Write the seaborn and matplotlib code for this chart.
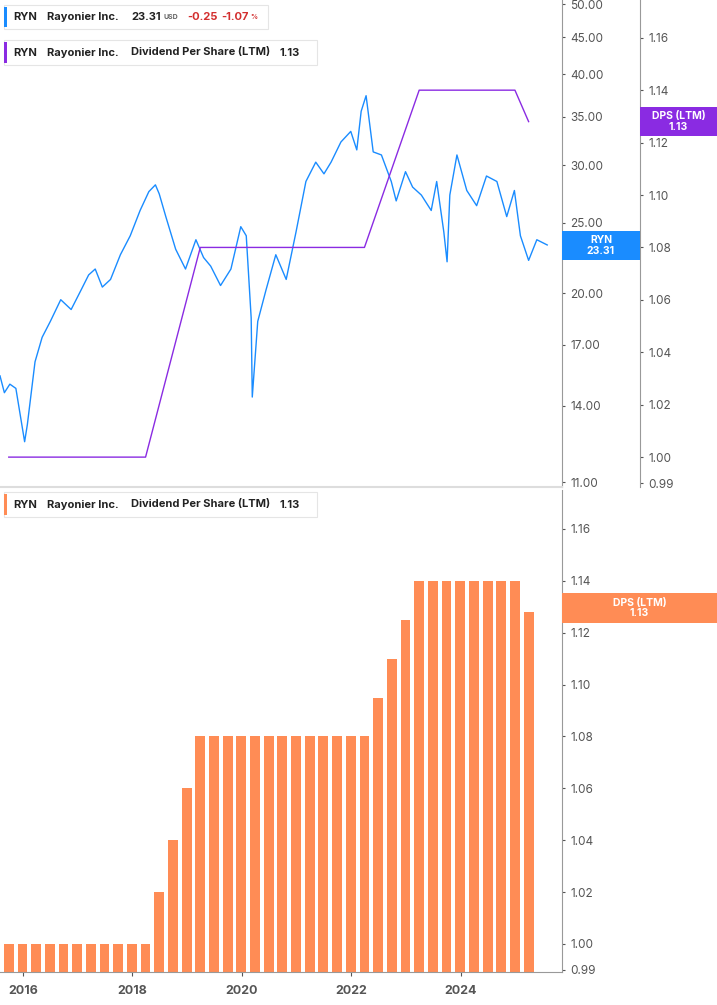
import numpy as np
import pandas as pd
import matplotlib
matplotlib.use("Agg")
import matplotlib.pyplot as plt
import seaborn as sns

plt.rcParams["font.family"] = "Inter"

# ── data ──────────────────────────────────────────────────────
# price: decimal year, USD
PRICE_T = [2015.58, 2015.66, 2015.76, 2015.87, 2016.03, 2016.08, 2016.22, 2016.35, 2016.50, 2016.69,
           2016.88, 2017.06, 2017.20, 2017.32, 2017.45, 2017.60, 2017.78, 2017.96, 2018.14,
           2018.30, 2018.42, 2018.49, 2018.61, 2018.79, 2018.97, 2019.16, 2019.30,
           2019.43, 2019.61, 2019.80, 2019.98, 2020.08, 2020.17, 2020.19, 2020.29, 2020.44,
           2020.62, 2020.81, 2020.99, 2021.17, 2021.35, 2021.50, 2021.63, 2021.81, 2021.99,
           2022.10, 2022.18, 2022.27, 2022.40, 2022.55, 2022.73, 2022.82, 2022.99, 2023.12,
           2023.28, 2023.46, 2023.56, 2023.69, 2023.75, 2023.80, 2023.93, 2024.11, 2024.29,
           2024.47, 2024.66, 2024.84, 2024.98, 2025.09, 2025.24, 2025.39, 2025.58]
PRICE_V = [15.4, 14.6, 15.0, 14.8, 12.5, 13.2, 16.1, 17.4, 18.3, 19.6,
           19.0, 20.2, 21.2, 21.6, 20.4, 20.9, 22.6, 24.0, 26.0,
           27.6, 28.2, 27.4, 25.5, 23.0, 21.6, 23.7, 22.4,
           21.8, 20.5, 21.6, 24.7, 24.0, 18.5, 14.4, 18.3, 20.2,
           22.6, 20.9, 24.3, 28.5, 30.3, 29.2, 30.3, 32.3, 33.4,
           31.5, 35.6, 37.4, 31.3, 31.0, 28.5, 26.8, 29.4, 28.0,
           27.3, 26.0, 28.5, 24.3, 22.1, 27.3, 31.0, 27.7, 26.4,
           29.0, 28.5, 25.5, 27.7, 24.0, 22.2, 23.7, 23.31]

# dividend per share (LTM), quarterly
DPS_T = [2015.74 + 0.25 * i for i in range(39)]
DPS_V = [1.00] * 11 + [1.02, 1.04, 1.06] + [1.08] * 13 + [1.095, 1.11, 1.125] + [1.14] * 8 + [1.128]

YEARS = [2016, 2018, 2020, 2022, 2024]
PRICE_TICKS = [11, 14, 17, 20, 25, 30, 35, 40, 45, 50]
DPS_TICKS = [0.99, 1.00, 1.02, 1.04, 1.06, 1.08, 1.10, 1.12, 1.14, 1.16]

BLUE = "#1a8cff"
PURPLE = "#8a2be2"
ORANGE = "#ff8c55"
GREY = "#555555"

W, H = 717, 1005
fig = plt.figure(figsize=(W / 100, H / 100), dpi=100)


def box(x0, y0, x1, y1):
    return [x0 / W, 1 - y1 / H, (x1 - x0) / W, (y1 - y0) / H]


XLIM = (2015.58, 2025.85)

# ── top panel: price (log) + DPS line ─────────────────────────
ax1 = fig.add_axes(box(0, 0, 562, 487))
price = pd.DataFrame({"t": PRICE_T, "v": PRICE_V})
sns.lineplot(data=price, x="t", y="v", color=BLUE, lw=1.0, ax=ax1)
ax1.set_yscale("log")
ax1.set_ylim(10.83, 50.64)
ax1.set_xlim(*XLIM)
ax1.yaxis.tick_right()
ax1.set_yticks(PRICE_TICKS)
ax1.set_yticklabels([f"{v:.2f}" for v in PRICE_TICKS])
ax1.minorticks_off()
ax1.set_xticks([])
ax1.tick_params(axis="y", colors=GREY, labelsize=8.5, length=2, pad=4)
for s in ["top", "left"]:
    ax1.spines[s].set_visible(False)
ax1.spines["right"].set_color("#999999")
ax1.spines["bottom"].set_color("#dddddd")
ax1.spines["bottom"].set_linewidth(1.5)
ax1.set_xlabel("")
ax1.set_ylabel("")

ax2 = fig.add_axes(box(0, 0, 640, 487), facecolor="none")
dps = pd.DataFrame({"t": DPS_T, "v": DPS_V})
sns.lineplot(data=dps, x="t", y="v", color=PURPLE, lw=1.0, ax=ax2)
ax2.set_xlim(XLIM[0], XLIM[0] + (XLIM[1] - XLIM[0]) * 640 / 562)
ax2.set_ylim(0.9886, 1.1744)
ax2.yaxis.tick_right()
ax2.set_yticks(DPS_TICKS)
ax2.set_yticklabels([f"{v:.2f}" for v in DPS_TICKS])
ax2.set_xticks([])
ax2.tick_params(axis="y", colors=GREY, labelsize=8.5, length=2, pad=4)
for s in ["top", "left", "bottom"]:
    ax2.spines[s].set_visible(False)
ax2.spines["right"].set_color("#999999")
ax2.set_xlabel("")
ax2.set_ylabel("")

# ── bottom panel: DPS bars ────────────────────────────────────
ax3 = fig.add_axes(box(0, 490, 562, 972))
sns.barplot(data=dps, x="t", y="v", color=ORANGE, native_scale=True,
            width=0.72, saturation=1, ax=ax3)
ax3.set_xlim(*XLIM)
ax3.set_ylim(0.9892, 1.175)
ax3.yaxis.tick_right()
ax3.set_yticks(DPS_TICKS)
ax3.set_yticklabels([f"{v:.2f}" for v in DPS_TICKS])
ax3.set_xticks(YEARS)
ax3.set_xticklabels([str(y) for y in YEARS])
ax3.tick_params(axis="y", colors=GREY, labelsize=8.5, length=2, pad=4)
ax3.tick_params(axis="x", colors=GREY, labelsize=9, length=3, pad=6)
for lbl in ax3.get_xticklabels():
    lbl.set_fontweight("bold")
for s in ["top", "left"]:
    ax3.spines[s].set_visible(False)
ax3.spines["right"].set_color("#999999")
ax3.spines["bottom"].set_color("#999999")
ax3.set_xlabel("")
ax3.set_ylabel("")


# ── legend boxes & value tags ─────────────────────────────────
def legend(y0, y1, x1, color, parts):
    b = box(4, y0, x1, y1)
    fig.patches.append(plt.Rectangle((b[0], b[1]), b[2], b[3], transform=fig.transFigure,
                                     facecolor="white", edgecolor="#e5e5e5", lw=0.8, zorder=5))
    b2 = box(4, y0 + 2, 7, y1 - 2)
    fig.patches.append(plt.Rectangle((b2[0], b2[1]), b2[2], b2[3], transform=fig.transFigure,
                                     facecolor=color, edgecolor="none", zorder=6))
    yc = 1 - (y0 + y1) / 2 / H
    for x, txt, col, size in parts:
        fig.text(x / W, yc, txt, color=col, fontsize=size, fontweight="bold",
                 va="center", ha="left", zorder=7)


legend(5, 29, 268, BLUE, [(13, "RYN", "#222222", 8), (47, "Rayonier Inc.", "#222222", 8),
                          (131, "23.31", "#222222", 8), (163, "USD", "#666666", 5),
                          (187, "-0.25", "#d32f2f", 8), (221, "-1.07", "#d32f2f", 8),
                          (250, "%", "#d32f2f", 5)])
legend(40, 65, 317, PURPLE, [(13, "RYN", "#222222", 8), (47, "Rayonier Inc.", "#222222", 8),
                             (131, "Dividend Per Share (LTM)", "#222222", 8),
                             (280, "1.13", "#222222", 8)])
legend(492, 517, 317, ORANGE, [(13, "RYN", "#222222", 8), (47, "Rayonier Inc.", "#222222", 8),
                               (131, "Dividend Per Share (LTM)", "#222222", 8),
                               (280, "1.13", "#222222", 8)])


def tag(x0, y0, x1, y1, color, text):
    b = box(x0, y0, x1, y1)
    fig.patches.append(plt.Rectangle((b[0], b[1]), b[2], b[3], transform=fig.transFigure,
                                     facecolor=color, edgecolor="none", zorder=8))
    fig.text((x0 + x1) / 2 / W, 1 - (y0 + y1) / 2 / H, text, color="white", fontsize=7.5,
             fontweight="bold", ha="center", va="center", linespacing=1.1, zorder=9)


tag(562, 231, 640, 260, BLUE, "RYN\n23.31")
tag(640, 107, 717, 136, PURPLE, "DPS (LTM)\n1.13")
tag(562, 593, 717, 623, ORANGE, "DPS (LTM)\n1.13")

fig.savefig("out.png", dpi=100)
